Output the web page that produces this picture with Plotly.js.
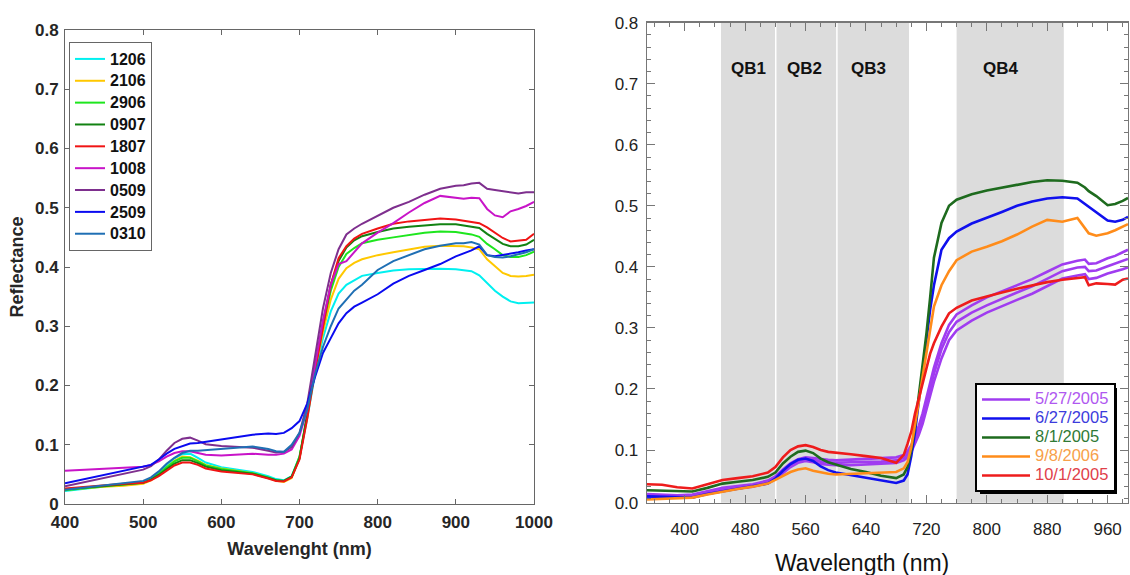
<!DOCTYPE html>
<html>
<head>
<meta charset="utf-8">
<script src="https://cdn.plot.ly/plotly-3.0.1.min.js"></script>
<style>html,body{margin:0;padding:0;background:#fff;}#chart{width:1130px;height:575px;}</style>
</head>
<body>
<div id="chart"></div>
<script>
// ---------- Left panel data ----------
const wlLeft = [400,425,450,475,500,510,520,530,540,550,560,570,580,600,620,640,660,670,680,690,700,710,720,730,740,750,760,770,780,800,820,840,860,880,900,910,920,930,940,950,960,970,980,990,1000];
const leftNames = ['1206','2106','2906','0907','1807','1008','0509','2509','0310'];
const leftColors = ['#00f0f0','#ffc800','#1ee61e','#128212','#f01414','#c814c8','#7e2f8e','#0a0af0','#1f6fb4'];
const r1206 = [.022,.026,.030,.033,.037,.043,.053,.065,.077,.084,.085,.078,.070,.062,.058,.054,.047,.042,.040,.047,.080,.145,.220,.280,.325,.355,.370,.378,.385,.390,.394,.396,.397,.397,.396,.395,.393,.386,.373,.360,.350,.342,.339,.339,.340];
const r2106 = [.024,.027,.029,.031,.034,.040,.050,.062,.073,.080,.079,.073,.066,.060,.056,.052,.044,.039,.037,.044,.078,.148,.225,.290,.345,.380,.398,.407,.413,.420,.425,.430,.434,.436,.436,.435,.433,.430,.413,.402,.390,.385,.384,.385,.387];
const r2906 = [.023,.027,.030,.033,.036,.042,.051,.062,.072,.078,.078,.072,.065,.059,.055,.052,.045,.040,.039,.046,.080,.150,.230,.300,.360,.400,.422,.432,.440,.446,.450,.454,.458,.460,.459,.457,.455,.451,.439,.430,.420,.417,.417,.420,.426];
const r0907 = [.025,.028,.031,.033,.036,.041,.049,.059,.068,.074,.074,.069,.063,.057,.054,.051,.044,.040,.039,.046,.077,.150,.230,.305,.370,.410,.433,.445,.452,.459,.465,.468,.470,.472,.472,.470,.469,.466,.456,.447,.439,.435,.435,.438,.446];
const r1807 = [.026,.029,.032,.034,.036,.040,.047,.056,.065,.070,.070,.066,.060,.055,.052,.050,.043,.039,.038,.045,.075,.145,.225,.300,.370,.415,.435,.448,.456,.465,.473,.477,.480,.482,.480,.478,.477,.474,.467,.458,.449,.443,.444,.446,.456];
const r1008 = [.056,.058,.060,.061,.063,.066,.072,.080,.086,.089,.089,.086,.083,.082,.084,.085,.083,.083,.085,.092,.115,.160,.235,.310,.370,.405,.410,.425,.440,.458,.474,.492,.508,.520,.516,.515,.517,.516,.498,.487,.484,.494,.498,.503,.510];
const r0509 = [.030,.037,.045,.051,.058,.064,.075,.090,.103,.110,.112,.107,.101,.098,.096,.095,.090,.087,.088,.096,.120,.170,.250,.330,.390,.430,.455,.465,.473,.487,.500,.510,.522,.532,.537,.538,.541,.542,.532,.530,.528,.525,.524,.526,.526];
const r2509 = [.035,.042,.049,.055,.062,.066,.075,.085,.093,.098,.102,.103,.105,.109,.112,.117,.119,.118,.120,.128,.140,.170,.215,.255,.280,.305,.322,.333,.340,.354,.372,.385,.395,.405,.418,.423,.428,.435,.420,.418,.420,.423,.425,.428,.430];
const r0310 = [.024,.028,.031,.035,.039,.045,.055,.068,.078,.086,.090,.090,.091,.092,.094,.097,.093,.089,.088,.100,.120,.160,.220,.265,.300,.330,.345,.360,.370,.395,.410,.420,.430,.436,.440,.440,.442,.438,.420,.417,.416,.418,.421,.425,.430];
const leftSeries = [r1206,r2106,r2906,r0907,r1807,r1008,r0509,r2509,r0310];

// ---------- Right panel data ----------
const wlRight = [350,370,390,410,430,450,470,490,510,520,530,540,550,560,570,580,590,600,620,640,660,680,690,695,700,705,710,715,720,725,730,740,750,760,780,800,820,840,860,880,900,920,930,935,945,960,970,980,987];
const rightNames = ['5/27/2005','6/27/2005','8/1/2005','9/8/2006','10/1/2005'];
const rightColors = ['#a03cf0','#1010ee','#1e6b1e','#ff8c1a','#ee1c1c'];
const rightTextColors = ['#b058f0','#3c3cdc','#2f7a35','#f7a04a','#e0404a'];
const p0527a = [.028,.027,.026,.027,.033,.038,.041,.044,.050,.057,.068,.078,.085,.088,.087,.085,.084,.083,.084,.085,.086,.088,.092,.098,.108,.122,.140,.160,.185,.210,.235,.275,.305,.322,.337,.350,.360,.370,.380,.392,.404,.410,.412,.405,.406,.414,.418,.424,.428];
const p0527b = [.025,.024,.024,.025,.030,.036,.039,.042,.048,.055,.065,.075,.082,.085,.084,.081,.080,.079,.080,.080,.081,.083,.087,.093,.103,.116,.133,.152,.175,.200,.225,.265,.293,.310,.325,.337,.348,.358,.368,.380,.393,.399,.400,.393,.394,.401,.405,.410,.413];
const p0527c = [.023,.022,.022,.023,.028,.034,.037,.040,.046,.053,.062,.072,.079,.082,.080,.077,.076,.075,.075,.076,.077,.079,.083,.088,.097,.110,.125,.143,.165,.190,.212,.250,.280,.296,.312,.325,.336,.346,.356,.368,.381,.386,.388,.380,.382,.389,.392,.396,.399];
const p0627 = [.024,.023,.022,.022,.028,.032,.036,.040,.045,.053,.066,.077,.084,.086,.082,.073,.067,.063,.059,.055,.051,.046,.050,.060,.090,.130,.180,.230,.280,.330,.370,.428,.447,.458,.471,.480,.490,.500,.507,.512,.514,.512,.503,.498,.488,.476,.474,.477,.482];
const p0801 = [.034,.033,.032,.032,.038,.045,.048,.051,.056,.063,.078,.089,.097,.099,.095,.086,.080,.076,.069,.064,.058,.054,.060,.072,.100,.140,.190,.240,.290,.350,.415,.472,.500,.510,.519,.525,.530,.535,.539,.542,.541,.538,.530,.524,.516,.501,.503,.508,.513];
const p0908 = [.019,.020,.021,.022,.027,.032,.036,.040,.045,.051,.058,.064,.068,.070,.066,.063,.061,.060,.061,.062,.063,.064,.070,.080,.105,.140,.180,.220,.260,.300,.335,.370,.393,.411,.425,.433,.442,.453,.466,.477,.474,.480,.462,.455,.451,.455,.460,.466,.470];
const p1001 = [.044,.043,.039,.037,.044,.051,.054,.057,.063,.072,.088,.100,.106,.108,.105,.100,.097,.096,.093,.090,.087,.079,.092,.110,.130,.160,.185,.210,.235,.258,.275,.302,.324,.333,.345,.352,.358,.364,.370,.375,.379,.382,.383,.370,.373,.372,.371,.379,.381];

// bands
const bandNames = ['QB1','QB2','QB3','QB4'];
const bandStart = [448,521.5,602.5,760];
const bandEnd = [519.5,600.5,697,902];
const bandLabelX = [484,558,643,819];

const rightTicks = [400,480,560,640,720,800,880,960];
const yRightTicks = [0.0137,0.1,0.2,0.3,0.4,0.5,0.6,0.7,0.8];
const yRightText = ['0.0','0.1','0.2','0.3','0.4','0.5','0.6','0.7','0.8'];

const FONT = 'Liberation Sans, Arial, Helvetica, sans-serif';
const traces = [];
leftSeries.forEach((ys,i)=>{
  traces.push({x:wlLeft, y:ys, type:'scatter', mode:'lines',
    name:'<span style="font-size:16px">'+leftNames[i]+'</span>',
    line:{color:leftColors[i], width:2}, xaxis:'x', yaxis:'y', legend:'legend'});
});
const rightSets = [[p0527a,0,true],[p0527b,0,false],[p0527c,0,false],[p0627,1,true],[p0801,2,true],[p0908,3,true],[p1001,4,true]];
rightSets.forEach(([ys,ci,show])=>{
  traces.push({x:wlRight, y:ys, type:'scatter', mode:'lines',
    name:'<span style="color:'+rightTextColors[ci]+';font-size:16.5px">'+rightNames[ci]+'</span>',
    line:{color:rightColors[ci], width:2.6}, xaxis:'x2', yaxis:'y2', legend:'legend2', showlegend:show});
});

const axisL = {showline:true, linecolor:'#666', linewidth:1, mirror:'ticks', ticks:'inside', ticklen:5, tickcolor:'#666',
  showgrid:false, zeroline:false, tickfont:{family:FONT, size:17, weight:'bold', color:'#262626'}};
const axisR = {showline:true, linecolor:'#777', linewidth:1.3, mirror:'ticks', ticks:'inside', ticklen:8, tickcolor:'#777',
  showgrid:false, zeroline:false, tickfont:{family:FONT, size:17, color:'#222'}};

const shapes = bandNames.map((n,i)=>({type:'rect', xref:'x2', yref:'y2 domain', x0:bandStart[i], x1:bandEnd[i], y0:0, y1:1,
  fillcolor:'#dcdcdc', line:{width:0}, layer:'below'}));
shapes.push({type:'rect', xref:'paper', yref:'paper', x0:980/1130, x1:1117/1130, y0:(575-494)/575, y1:(575-388)/575,
  fillcolor:'#000', line:{width:0}, layer:'above'});

const annotations = bandNames.map((n,i)=>({text:n, x:bandLabelX[i], y:0.725, xref:'x2', yref:'y2', showarrow:false,
  font:{family:FONT, size:17, weight:'bold', color:'#111'}}));
annotations.push({text:'Wavelength (nm)', xref:'paper', yref:'paper', x:862/1130, y:(575-563)/575, showarrow:false,
  xanchor:'center', yanchor:'middle', font:{family:FONT, size:23, color:'#111'}});

const layout = {
  width:1130, height:575, margin:{l:0,r:0,t:0,b:0}, paper_bgcolor:'#fff', plot_bgcolor:'#fff',
  font:{family:FONT},
  xaxis:Object.assign({}, axisL, {domain:[65/1130, 534/1130], range:[400,1000], dtick:100, anchor:'y', ticklabelstandoff:3,
    title:{text:'Wavelenght (nm)', font:{family:FONT, size:18, weight:'bold', color:'#262626'}, standoff:10}}),
  yaxis:Object.assign({}, axisL, {domain:[(575-504)/575, (575-30)/575], range:[0,0.8], dtick:0.1, anchor:'x', ticklabelstandoff:2,
    title:{text:'Reflectance', font:{family:FONT, size:18, weight:'bold', color:'#262626'}, standoff:6}}),
  xaxis2:Object.assign({}, axisR, {domain:[647/1130, 1128/1130], range:[350,987], tickvals:rightTicks, anchor:'y2', ticklabelstandoff:11,
    minor:{tick0:400, dtick:20, ticks:'inside', ticklen:4, tickcolor:'#777'}}),
  yaxis2:Object.assign({}, axisR, {domain:[(575-502.7)/575, (575-22.7)/575], range:[0.0137,0.8], tickvals:yRightTicks, ticktext:yRightText, anchor:'x2', ticklabelstandoff:4,
    minor:{tick0:0, dtick:0.02, ticks:'inside', ticklen:4, tickcolor:'#777'}}),
  legend:{x:69/1130, y:(575-42)/575, xanchor:'left', yanchor:'top', bgcolor:'#fff', bordercolor:'#666', borderwidth:1,
    font:{family:FONT, size:14.5, weight:'bold', color:'#111'}},
  legend2:{x:975/1130, y:(575-383)/575, xanchor:'left', yanchor:'top', bgcolor:'#fff', bordercolor:'#000', borderwidth:2,
    font:{family:FONT, size:12}, itemwidth:48},
  shapes:shapes, annotations:annotations, showlegend:true
};
Plotly.newPlot('chart', traces, layout, {staticPlot:true, displayModeBar:false});
</script>
</body>
</html>
